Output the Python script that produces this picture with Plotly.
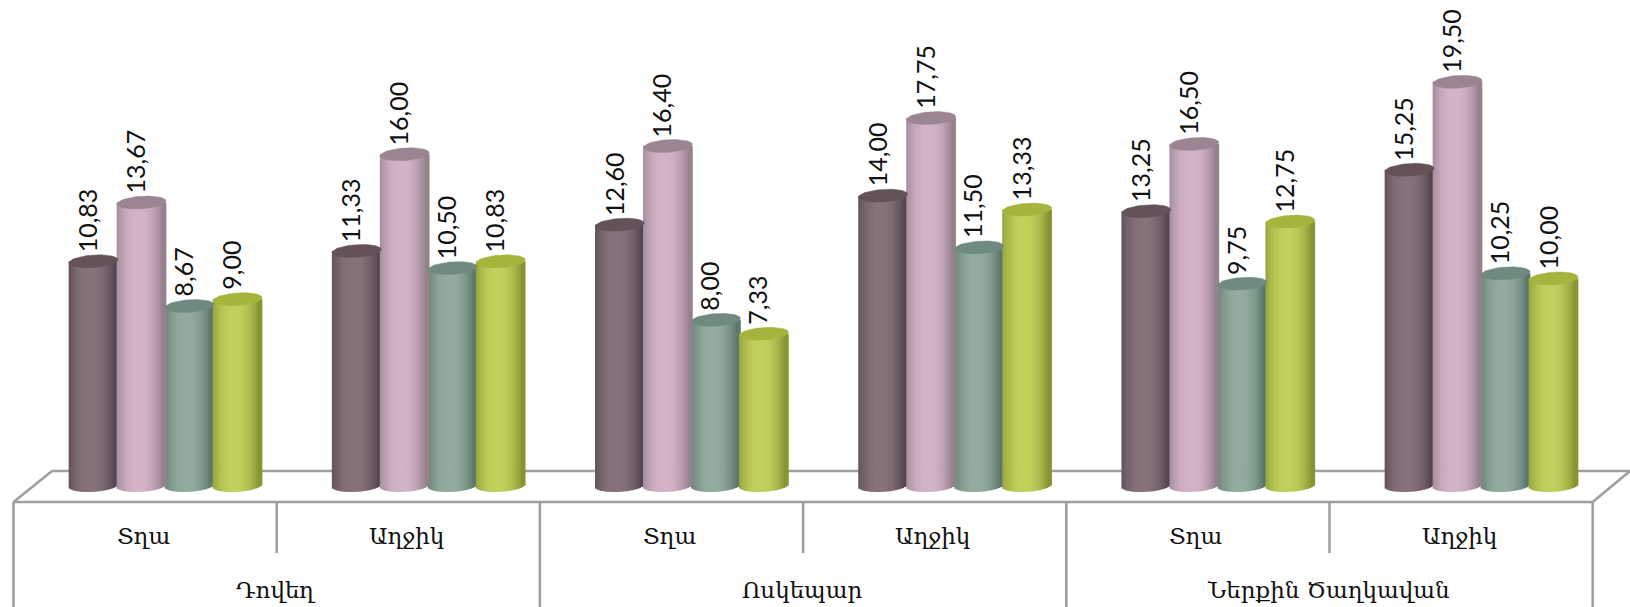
import numpy as np
import plotly.graph_objects as go

groups = ["Դովեղ", "Ոսկեպար", "Ներքին Ծաղկավան"]
subgroups = ["Տղա", "Աղջիկ"]
series_a = [10.83, 11.33, 12.60, 14.00, 13.25, 15.25]
series_b = [13.67, 16.00, 16.40, 17.75, 16.50, 19.50]
series_c = [8.67, 10.50, 8.00, 11.50, 9.75, 10.25]
series_d = [9.00, 10.83, 7.33, 13.33, 12.75, 10.00]

W, H = 1630, 607
PX_PER_UNIT = 20.7
BASE_PX = 485.5
PITCH = 263.2          # px per subgroup slot
FIRST_BAR = 93.5       # px centre of first bar
BAR_STEP = 48.0
DIAM = 49.0
N = 26
b_px, k_px = 6.3, 1.5


def mix(c1, c2, t):
    return "rgb(" + ",".join(str(int(round(a + (b - a) * t))) for a, b in zip(c1, c2)) + ")"


styles = [
    (series_a, (86, 70, 79), (134, 114, 123), "rgb(100,82,90)"),
    (series_b, (150, 128, 142), (211, 180, 199), "rgb(155,133,147)"),
    (series_c, (92, 118, 108), (147, 172, 158), "rgb(112,138,128)"),
    (series_d, (136, 148, 50), (193, 209, 92), "rgb(166,180,62)"),
]
draw_order = [0, 2, 1, 3]

fig = go.Figure()
y_unit = 1 / PX_PER_UNIT
for si in draw_order:
    vals, edge, light, top = styles[si]
    cx0 = FIRST_BAR + si * BAR_STEP
    u = np.linspace(-1, 1, N, endpoint=False) + 1 / N
    xs, ys, bases, cols = [], [], [], []
    for g, v in enumerate(vals):
        for ui in u:
            xs.append(cx0 + g * PITCH + ui * DIAM / 2)
            low = (-b_px * np.sqrt(max(0, 1 - ui**2)) + k_px * ui) * y_unit
            bases.append(low)
            ys.append(v - low)
            t = 1 - min(1, abs(ui + 0.12) / 1.0) ** 2.2
            cols.append(mix(edge, light, t))
    fig.add_trace(go.Bar(x=xs, y=ys, base=bases, width=DIAM / N + 0.7,
                         marker=dict(color=cols, line=dict(width=0)),
                         hoverinfo="skip", showlegend=False))
    th = np.linspace(0, 2 * np.pi, 60)
    for g, v in enumerate(vals):
        cx = cx0 + g * PITCH
        ex = cx + DIAM / 2 * np.cos(th)
        ey = v + (b_px * np.sin(th) + k_px * np.cos(th)) * y_unit
        fig.add_trace(go.Scatter(x=ex, y=ey, mode="lines", fill="toself", fillcolor=top,
                                 line=dict(width=0.5, color=top),
                                 hoverinfo="skip", showlegend=False))

annotations = []
for si, (vals, *_rest) in enumerate(styles):
    cx0 = FIRST_BAR + si * BAR_STEP
    for g, v in enumerate(vals):
        annotations.append(dict(
            x=cx0 + g * PITCH - 6.5, y=v, xref="x", yref="y", yshift=7,
            text=f"{v:.2f}".replace(".", ","), textangle=-90, showarrow=False,
            xanchor="center", yanchor="bottom",
            font=dict(family="Lato", size=25, color="#111111")))

LEFT = 13.5
for i in range(6):
    annotations.append(dict(x=LEFT + PITCH * (i + 0.5) - 2, y=(BASE_PX - 536) / PX_PER_UNIT,
                            xref="x", yref="y", text=subgroups[i % 2], showarrow=False,
                            font=dict(family="DejaVu Serif", size=23, color="#111111")))
for i, name in enumerate(groups):
    annotations.append(dict(x=LEFT + PITCH * (2 * i + 1) - 1, y=(BASE_PX - 590) / PX_PER_UNIT,
                            xref="x", yref="y", text=name, showarrow=False,
                            font=dict(family="DejaVu Serif", size=23, color="#111111")))


def seg(x0, y0, x1, y1):
    return dict(type="line", xref="paper", yref="paper", x0=x0 / W, x1=x1 / W,
                y0=1 - y0 / H, y1=1 - y1 / H, layer="below",
                line=dict(color="#9f9f9f", width=2.6))


FRONT, BACK = 502, 471
RIGHT = LEFT + 6 * PITCH
shapes = [seg(52, BACK, W, BACK), seg(LEFT, FRONT, 52, BACK), seg(RIGHT, FRONT, W, BACK),
          seg(LEFT, FRONT, RIGHT, FRONT)]
for i in range(7):
    shapes.append(seg(LEFT + i * PITCH, FRONT, LEFT + i * PITCH, H if i % 2 == 0 else 553))

fig.update_layout(
    width=W, height=H, margin=dict(l=0, r=0, t=0, b=0),
    paper_bgcolor="white", plot_bgcolor="white", barmode="overlay", showlegend=False,
    xaxis=dict(range=[0, W], visible=False, fixedrange=True),
    yaxis=dict(range=[(BASE_PX - H) / PX_PER_UNIT, BASE_PX / PX_PER_UNIT], visible=False, fixedrange=True),
    annotations=annotations, shapes=shapes,
)
fig.write_html("out.html", config={"displayModeBar": False},
               post_script="document.body.style.margin='0';document.body.style.overflow='hidden';")
